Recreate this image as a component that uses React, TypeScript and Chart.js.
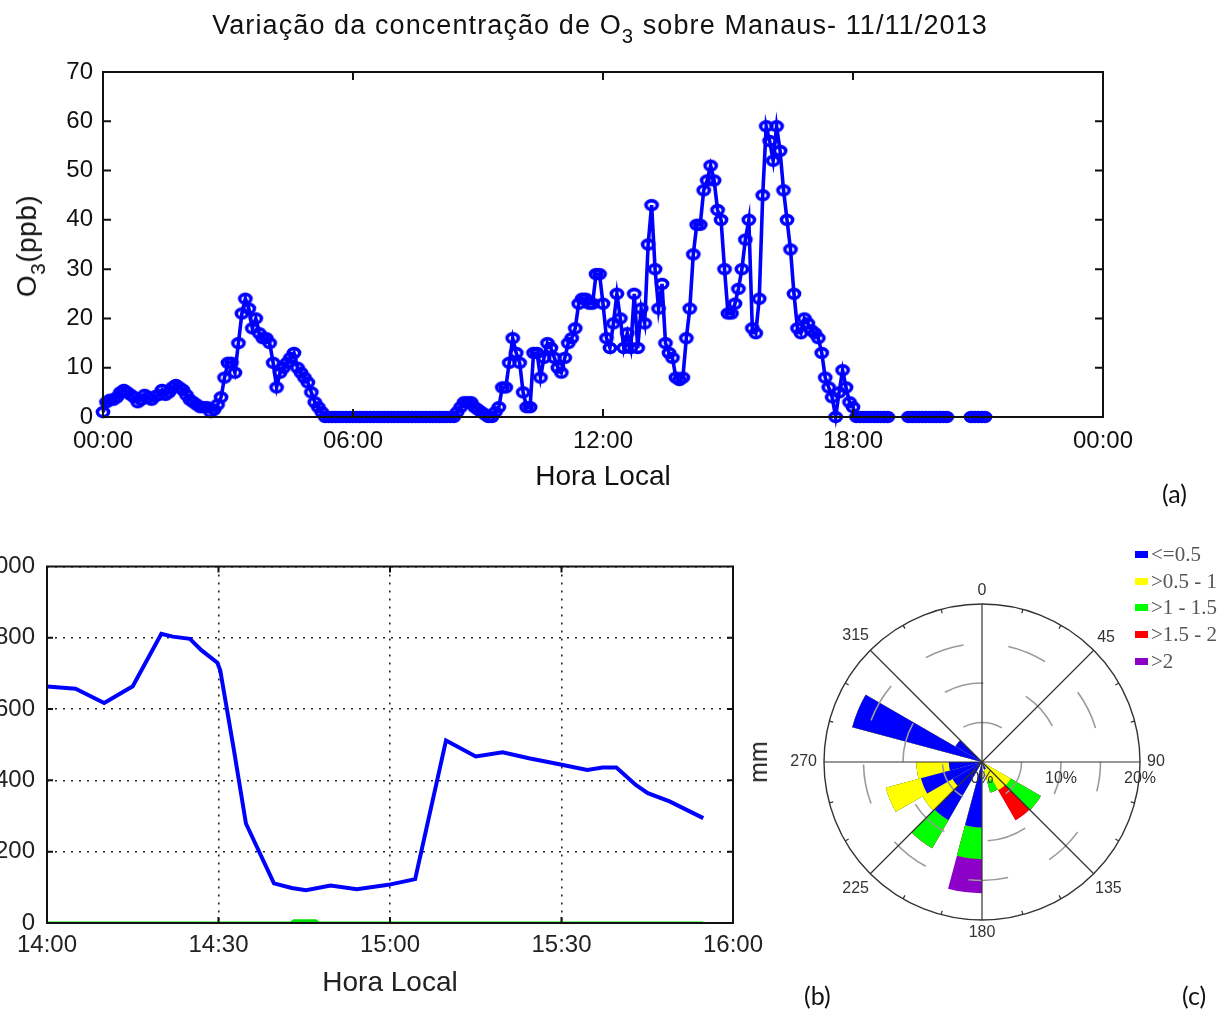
import React, { useEffect, useRef } from 'react';
import { Chart, registerables } from 'chart.js';

Chart.register(...registerables);

const FONT = "'Liberation Sans', Arial, Helvetica, sans-serif";
const BLUE = '#0000FF';

// ---------- (a) O3 over Manaus, 11/11/2013 (one value every 5 min from 00:00) ----------
const o3StepMinutes = 5;
const o3Ppb: (number | null)[] = [
  // 00h
  1, 3, 3.5, 3.5, 4, 5, 5.5, 5, 4.5, 4, 3, 3.5,
  // 01h
  4.5, 4, 3.5, 4.2, 4.5, 5.5, 4.5, 5, 6, 6.5, 6, 5.5,
  // 02h
  4.5, 3.5, 3, 2.5, 2, 2, 2, 1, 1.5, 2.5, 4, 8,
  // 03h
  11, 11, 9, 15, 21, 24, 22, 18, 20, 17, 16, 16,
  // 04h
  15, 11, 6, 9, 10, 11, 12, 13, 10, 9, 8, 7,
  // 05h
  5, 3, 2, 1, 0, 0, 0, 0, 0, 0, 0, 0,
  // 06h
  0, 0, 0, 0, 0, 0, 0, 0, 0, 0, 0, 0,
  // 07h
  0, 0, 0, 0, 0, 0, 0, 0, 0, 0, 0, 0,
  // 08h
  0, 0, 0, 0, 0, 0, 1, 2, 3, 3, 3, 2,
  // 09h
  1.5, 1, 0.5, 0, 0, 1, 2, 6, 6, 11, 16, 13,
  // 10h
  11, 5, 2, 2, 13, 13, 8, 12, 15, 14, 12, 10,
  // 11h
  9, 12, 15, 16, 18, 23, 24, 24, 23, 23, 29, 29,
  // 12h
  23, 16, 14, 19, 25, 20, 14, 17, 14, 25, 14, 22,
  // 13h
  19, 35, 43, 30, 22, 27, 15, 13, 12, 8, 7.5, 8,
  // 14h
  16, 22, 33, 39, 39, 46, 48, 51, 48, 42, 40, 30,
  // 15h
  21, 21, 23, 26, 30, 36, 40, 18, 17, 24, 45, 59,
  // 16h
  56, 52, 59, 54, 46, 40, 34, 25, 18, 17, 20, 19,
  // 17h
  17.6, 17, 16, 13, 8, 6, 4, 0, 5, 9.5, 6, 3,
  // 18h
  2, 0, 0, 0, 0, 0, 0, 0, 0, 0, 0, null,
  // 19h
  null, null, null, null, 0, 0, 0, 0, 0, 0, 0, 0,
  // 20h
  0, 0, 0, 0, null, null, null, null, null, null, 0, 0,
  // 21h
  0, 0, 0,
];
const aYTicks = [0, 10, 20, 30, 40, 50, 60, 70];
const aXTickMinutes = [0, 360, 720, 1080, 1440];

// ---------- (b) 14:00 - 16:00 ----------
const bStartMinute = 14 * 60;
const bBlueMinutes = [0, 5, 10, 15, 20, 22, 25, 27, 29.8, 30.3, 32.7, 34.8, 39.7, 42.8, 45.3, 49.6, 54.2, 59.7, 64.4, 69.8, 75, 79.7, 84.3, 89.4, 94.5, 97.2, 99.6, 103, 105.1, 108.9, 114.8];
const bBlueValues = [663, 657, 617, 664, 811, 803, 797, 765, 730, 709, 485, 279, 111, 98, 92, 105, 95, 107, 123, 512, 467, 479, 462, 446, 429, 436, 436, 387, 364, 341, 294];
const bGreenMinutes = [0, 42.6, 43.2, 47, 47.5, 114.8];
const bGreenValues = [0, 0, 6, 6, 0, 0];
const bYTicks = [0, 200, 400, 600, 800, 1000];
const bXTickMinutes = [0, 30, 60, 90, 120];

// ---------- (c) rose: 24 sectors of 15 deg, starting at north, clockwise (% per class) ----------
const roseClassLabels = ['<=0.5', '>0.5 - 1', '>1 - 1.5', '>1.5 - 2', '>2'];
const roseClassColors = ['#0000FF', '#FFFF00', '#00FF00', '#FF0000', '#8C00C8'];
//                 0  15 30 45 60 75 90 105 120  135  150  165 180  195 210  225  240  255  270 285 300  315 330 345
const roseLe05 = [0, 0, 0, 0, 0, 0, 0, 0, 0, 0, 1, 0, 8.3, 0, 8.5, 4.3, 8.0, 4.2, 0, 17, 3.9, 0, 0, 0];
const rose05to1 = [0, 0, 0, 0, 0, 0, 0, 0, 4.2, 4.1, 1.5, 0, 0, 0, 0, 4.4, 4.6, 4.1, 0, 0, 0, 0, 0, 0];
const rose1to15 = [0, 0, 0, 0, 0, 0, 0, 0, 4.4, 0, 1.5, 0, 4.0, 0, 4.1, 0, 0, 0, 0, 0, 0, 0, 0, 0];
const rose15to2 = [0, 0, 0, 0, 0, 0, 0, 0, 0, 4.4, 0, 0, 0, 0, 0, 0, 0, 0, 0, 0, 0, 0, 0, 0];
const roseGt2 = [0, 0, 0, 0, 0, 0, 0, 0, 0, 0, 0, 0, 4.3, 0, 0, 0, 0, 0, 0, 0, 0, 0, 0, 0];
const roseDirLabels = ['0', '45', '90', '135', '180', '225', '270', '315'];
const roseDirDegrees = [0, 45, 90, 135, 180, 225, 270, 315];
const roseRimTickDegrees = [15, 30, 60, 75, 105, 120, 150, 165, 195, 210, 240, 255, 285, 300, 330, 345];
const rosePctLabels = [0, 10, 20];

const hhmm = (m: number) => {
  const h = Math.floor(m / 60) % 24;
  const mm = Math.round(m % 60);
  return `${String(h).padStart(2, '0')}:${String(mm).padStart(2, '0')}`;
};

const framePlugin = (tickLen: number, lw: number) => ({
  id: 'frame',
  afterDatasetsDraw(chart: any) {
    const { ctx, chartArea, scales } = chart;
    const { left, right, top, bottom } = chartArea;
    ctx.save();
    ctx.strokeStyle = '#111';
    ctx.lineWidth = lw;
    ctx.beginPath();
    ctx.rect(left, top, right - left, bottom - top);
    scales.x.ticks.forEach((t: any) => {
      const px = scales.x.getPixelForValue(t.value);
      ctx.moveTo(px, bottom);
      ctx.lineTo(px, bottom - tickLen);
      ctx.moveTo(px, top);
      ctx.lineTo(px, top + tickLen);
    });
    scales.y.ticks.forEach((t: any) => {
      const py = scales.y.getPixelForValue(t.value);
      ctx.moveTo(left, py);
      ctx.lineTo(left + tickLen, py);
      ctx.moveTo(right, py);
      ctx.lineTo(right - tickLen, py);
    });
    ctx.stroke();
    ctx.restore();
  },
});

const roseDecor = {
  id: 'roseDecor',
  afterDraw(chart: any) {
    const s = chart.scales.r;
    const ctx = chart.ctx;
    const cx = s.xCenter;
    const cy = s.yCenter;
    const R = s.drawingArea;
    ctx.save();
    ctx.strokeStyle = '#333';
    ctx.lineWidth = 1.2;
    roseRimTickDegrees.forEach((a) => {
      const t = (a * Math.PI) / 180;
      ctx.beginPath();
      ctx.moveTo(cx + R * Math.sin(t), cy - R * Math.cos(t));
      ctx.lineTo(cx + (R - 4) * Math.sin(t), cy - (R - 4) * Math.cos(t));
      ctx.stroke();
    });
    ctx.font = `16px ${FONT}`;
    ctx.fillStyle = '#333';
    ctx.textAlign = 'center';
    ctx.textBaseline = 'middle';
    roseDirLabels.forEach((lab, i) => {
      const t = (roseDirDegrees[i] * Math.PI) / 180;
      const w = ctx.measureText(lab).width;
      const d = R + 7 + (w / 2) * Math.abs(Math.sin(t)) + 6 * Math.abs(Math.cos(t));
      ctx.fillText(lab, cx + d * Math.sin(t), cy - d * Math.cos(t));
    });
    rosePctLabels.forEach((v) => {
      ctx.fillText(`${v}%`, cx + s.getDistanceFromCenterForValue(v), cy + 17);
    });
    ctx.restore();
  },
};

const tickFont = { family: FONT, size: 24 };

function makeRingMarker(): HTMLCanvasElement {
  const mk = document.createElement('canvas');
  mk.width = 18;
  mk.height = 16;
  const g = mk.getContext('2d') as CanvasRenderingContext2D;
  g.strokeStyle = BLUE;
  g.lineWidth = 3.6;
  g.beginPath();
  g.ellipse(9, 8, 5.6, 4.4, 0, 0, Math.PI * 2);
  g.stroke();
  return mk;
}

export default function App() {
  const aRef = useRef<HTMLCanvasElement>(null);
  const bRef = useRef<HTMLCanvasElement>(null);
  const cRef = useRef<HTMLCanvasElement>(null);

  useEffect(() => {
    const aData = o3Ppb.map((v, i) => ({ x: i * o3StepMinutes, y: v }));
    const ring = makeRingMarker();
    const chartA = new Chart(aRef.current as HTMLCanvasElement, {
      type: 'line',
      data: {
        datasets: [
          {
            data: aData as any,
            borderColor: BLUE,
            borderWidth: 3.6,
            pointStyle: ring as any,
            pointRadius: 5,
            pointBorderColor: BLUE,
            pointBackgroundColor: 'rgba(0,0,0,0)',
            spanGaps: false,
            tension: 0,
            clip: false as any,
          },
        ],
      },
      options: {
        animation: false,
        responsive: false,
        maintainAspectRatio: false,
        layout: { padding: { left: 0, top: 72, right: 120, bottom: 0 } },
        plugins: { legend: { display: false }, tooltip: { enabled: false } },
        scales: {
          x: {
            type: 'linear',
            min: 0,
            max: 1440,
            afterFit: (s: any) => { s.height = 93; },
            afterBuildTicks: (s: any) => { s.ticks = aXTickMinutes.map((v) => ({ value: v })); },
            grid: { display: false, drawTicks: false },
            border: { display: false },
            ticks: { callback: (v: any) => hhmm(Number(v)), font: tickFont, color: '#111', padding: 10, maxRotation: 0, autoSkip: false },
            title: { display: true, text: 'Hora Local', font: { family: FONT, size: 28 }, color: '#111', padding: { top: 0, bottom: 16 } },
          },
          y: {
            min: 0,
            max: 70,
            afterFit: (s: any) => { s.width = 103; },
            afterBuildTicks: (s: any) => { s.ticks = aYTicks.map((v) => ({ value: v })); },
            grid: { display: false, drawTicks: false },
            border: { display: false },
            ticks: { font: tickFont, color: '#111', padding: 10 },
          },
        },
      },
      plugins: [framePlugin(8, 2)],
    });

    const chartB = new Chart(bRef.current as HTMLCanvasElement, {
      type: 'line',
      data: {
        datasets: [
          {
            data: bBlueMinutes.map((m, i) => ({ x: m, y: bBlueValues[i] })) as any,
            borderColor: BLUE,
            borderWidth: 4,
            pointRadius: 0,
            tension: 0,
          },
          {
            data: bGreenMinutes.map((m, i) => ({ x: m, y: bGreenValues[i] })) as any,
            borderColor: '#00E000',
            borderWidth: 3,
            pointRadius: 0,
            tension: 0,
          },
        ],
      },
      options: {
        animation: false,
        responsive: false,
        maintainAspectRatio: false,
        layout: { padding: { left: 0, top: 26, right: 67, bottom: 0 } },
        plugins: { legend: { display: false }, tooltip: { enabled: false } },
        scales: {
          x: {
            type: 'linear',
            min: 0,
            max: 120,
            afterFit: (s: any) => { s.height = 87; },
            afterBuildTicks: (s: any) => { s.ticks = bXTickMinutes.map((v) => ({ value: v })); },
            grid: { display: true, drawTicks: false, color: '#222', lineWidth: 1.6 },
            border: { display: false, dash: [2, 6] },
            ticks: { callback: (v: any) => hhmm(bStartMinute + Number(v)), font: tickFont, color: '#222', padding: 8, maxRotation: 0, autoSkip: false },
            title: { display: true, text: 'Hora Local', font: { family: FONT, size: 28 }, color: '#222', padding: { top: 0, bottom: 10 } },
          },
          y: {
            min: 0,
            max: 1000,
            afterFit: (s: any) => { s.width = 107; },
            afterBuildTicks: (s: any) => { s.ticks = bYTicks.map((v) => ({ value: v })); },
            grid: { display: true, drawTicks: false, color: '#222', lineWidth: 1.6 },
            border: { display: false, dash: [2, 6] },
            ticks: { font: tickFont, color: '#222', padding: 12 },
          },
        },
      },
      plugins: [framePlugin(6, 2)],
    });

    const classes = [roseLe05, rose05to1, rose1to15, rose15to2, roseGt2];
    const cumulative = classes.map((_, k) =>
      roseLe05.map((_, i) => classes.slice(0, k + 1).reduce((acc, arr) => acc + arr[i], 0)),
    );
    const chartC = new Chart(cRef.current as HTMLCanvasElement, {
      type: 'polarArea',
      data: {
        labels: roseDirLabels,
        datasets: cumulative.map((vals, k) => ({
          label: roseClassLabels[k],
          data: vals,
          backgroundColor: roseClassColors[k],
          borderWidth: 0,
        })),
      },
      options: {
        animation: false,
        responsive: false,
        maintainAspectRatio: false,
        layout: { padding: { left: 64, top: 44, right: 60, bottom: 80 } },
        plugins: { legend: { display: false }, tooltip: { enabled: false } },
        scales: {
          r: {
            min: 0,
            max: 20,
            startAngle: 0,
            ticks: { display: false, stepSize: 5 },
            pointLabels: { display: false },
            angleLines: { display: true, color: '#333', lineWidth: 1.2 },
            grid: {
              circular: true,
              z: 1,
              color: (c: any) => (c.tick && c.tick.value === 20 ? '#333' : '#9a9a9a'),
              lineWidth: (c: any) => (c.tick && c.tick.value === 20 ? 1.4 : 1.6),
            },
            border: {
              dash: (c: any) => (c.tick && c.tick.value === 20 ? [] : [40, 45]),
              dashOffset: (c: any) => (c.tick ? c.scale.getDistanceFromCenterForValue(c.tick.value) * 0.087 : 0),
            },
          } as any,
        },
      },
      plugins: [roseDecor],
    });

    return () => {
      chartA.destroy();
      chartB.destroy();
      chartC.destroy();
    };
  }, []);

  const abs = (extra: React.CSSProperties): React.CSSProperties => ({ position: 'absolute', whiteSpace: 'nowrap', ...extra });
  const sub: React.CSSProperties = { fontSize: '0.75em', verticalAlign: '-0.45em', lineHeight: 0 };
  const panelFont = "Lato, 'Open Sans', sans-serif";

  return (
    <div style={{ position: 'absolute', left: 0, top: 0, width: 1223, height: 1010, overflow: 'hidden', background: '#fff', fontFamily: FONT, color: '#111' }}>
      <canvas ref={aRef} width={1223} height={510} style={{ position: 'absolute', left: 0, top: 0 }} />
      <canvas ref={bRef} width={860} height={470} style={{ position: 'absolute', left: -60, top: 540 }} />
      <canvas ref={cRef} width={440} height={440} style={{ position: 'absolute', left: 760, top: 560 }} />

      <div style={abs({ left: 600, top: 9, transform: 'translateX(-50%)', fontSize: 27, lineHeight: '32px', letterSpacing: '1.1px' })}>
        Variação da concentração de O<sub style={sub}>3</sub> sobre Manaus- 11/11/2013
      </div>
      <div style={abs({ left: 27, top: 246, transform: 'translate(-50%, -50%) rotate(-90deg)', fontSize: 28, lineHeight: '32px', letterSpacing: '0.5px' })}>
        O<sub style={sub}>3</sub>(ppb)
      </div>
      <div style={abs({ left: 758, top: 762, transform: 'translate(-50%, -50%) rotate(-90deg)', fontSize: 25, lineHeight: '30px', color: '#222' })}>mm</div>

      <div style={abs({ left: 1135, top: 541, fontFamily: "'Liberation Serif', 'Times New Roman', serif", fontSize: 21, color: '#555' })}>
        {roseClassLabels.map((lab, i) => (
          <div key={lab} style={{ height: 26.7, display: 'flex', alignItems: 'center' }}>
            <span style={{ display: 'inline-block', width: 13, height: 7, background: roseClassColors[i], marginRight: 3 }} />
            <span>{lab}</span>
          </div>
        ))}
      </div>

      <div style={abs({ left: 1162, top: 478, fontFamily: panelFont, fontSize: 25, lineHeight: '30px' })}>(a)</div>
      <div style={abs({ left: 804, top: 980, fontFamily: panelFont, fontSize: 25, lineHeight: '30px' })}>(b)</div>
      <div style={abs({ left: 1182, top: 980, fontFamily: panelFont, fontSize: 25, lineHeight: '30px' })}>(c)</div>
    </div>
  );
}
